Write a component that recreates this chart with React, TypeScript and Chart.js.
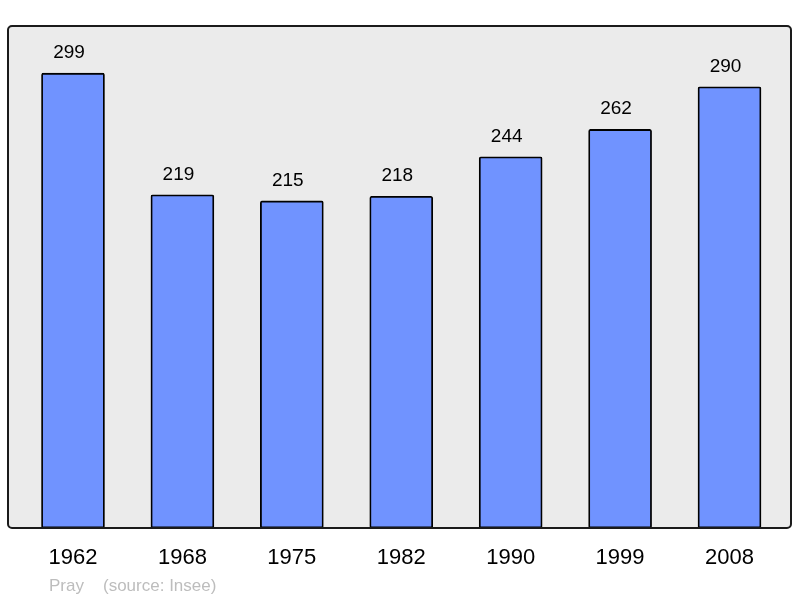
import React, { useEffect, useRef } from "react";
import { Chart, registerables } from "chart.js";

Chart.register(...registerables);

const years = ["1962", "1968", "1975", "1982", "1990", "1999", "2008"];
const population = [299, 219, 215, 218, 244, 262, 290];
const communeName = "Pray";
const sourceText = "(source: Insee)";

const FONT = "'Liberation Sans', Arial, sans-serif";

const framePlugin = {
  id: "frame",
  beforeDatasetsDraw(chart: any) {
    const { ctx, chartArea: a } = chart;
    ctx.save();
    ctx.fillStyle = "#ebebeb";
    ctx.beginPath();
    ctx.roundRect(a.left, a.top, a.right - a.left, a.bottom - a.top, 4);
    ctx.fill();
    ctx.restore();
  },
  afterDatasetsDraw(chart: any) {
    const { ctx, chartArea: a } = chart;
    ctx.save();
    // value labels
    const meta = chart.getDatasetMeta(0);
    ctx.fillStyle = "#000";
    ctx.font = `19px ${FONT}`;
    ctx.textAlign = "center";
    ctx.textBaseline = "alphabetic";
    meta.data.forEach((el: any, i: number) => {
      ctx.fillText(String(population[i]), el.x - 4, el.y - 15);
    });
    // frame
    ctx.strokeStyle = "#1a1a1a";
    ctx.lineWidth = 2;
    ctx.beginPath();
    ctx.roundRect(a.left, a.top, a.right - a.left, a.bottom - a.top, 4);
    ctx.stroke();
    // footer
    ctx.fillStyle = "#bdbdbd";
    ctx.font = `17px ${FONT}`;
    ctx.textAlign = "left";
    ctx.fillText(communeName, 49, 591);
    ctx.fillText(sourceText, 103, 591);
    ctx.restore();
  },
};

export default function App() {
  const ref = useRef<HTMLCanvasElement>(null);
  useEffect(() => {
    if (!ref.current) return;
    const chart = new Chart(ref.current, {
      type: "bar",
      data: {
        datasets: [
          {
            data: population.map((v, i) => ({ x: i, y: v })),
            backgroundColor: "#7093ff",
            borderColor: "#000",
            borderWidth: 1.8,
            borderRadius: 2,
            borderSkipped: false,
            barThickness: 63,
          },
        ],
      },
      options: {
        responsive: false,
        animation: false,
        layout: { padding: { left: 8, right: 9, top: 26, bottom: 0 } },
        plugins: { legend: { display: false }, tooltip: { enabled: false } },
        scales: {
          x: {
            type: "linear",
            min: -0.594,
            max: 6.562,
            offset: false,
            grid: { display: false },
            border: { display: false },
            afterBuildTicks: (axis: any) => {
              axis.ticks = years.map((_, i) => ({ value: i }));
            },
            afterFit: (scale: any) => {
              scale.height = 70;
            },
            ticks: {
              autoSkip: false,
              maxRotation: 0,
              padding: 9,
              color: "#000",
              font: { family: FONT, size: 22 },
              callback: (v: any) => years[v as number] ?? "",
            },
          },
          y: {
            display: false,
            min: 0,
            max: 330,
          },
        },
      },
      plugins: [framePlugin],
    });
    return () => chart.destroy();
  }, []);
  return (
    <div style={{ position: "absolute", left: 0, top: 0, width: 800, height: 598 }}>
      <canvas ref={ref} width={800} height={598} />
    </div>
  );
}
